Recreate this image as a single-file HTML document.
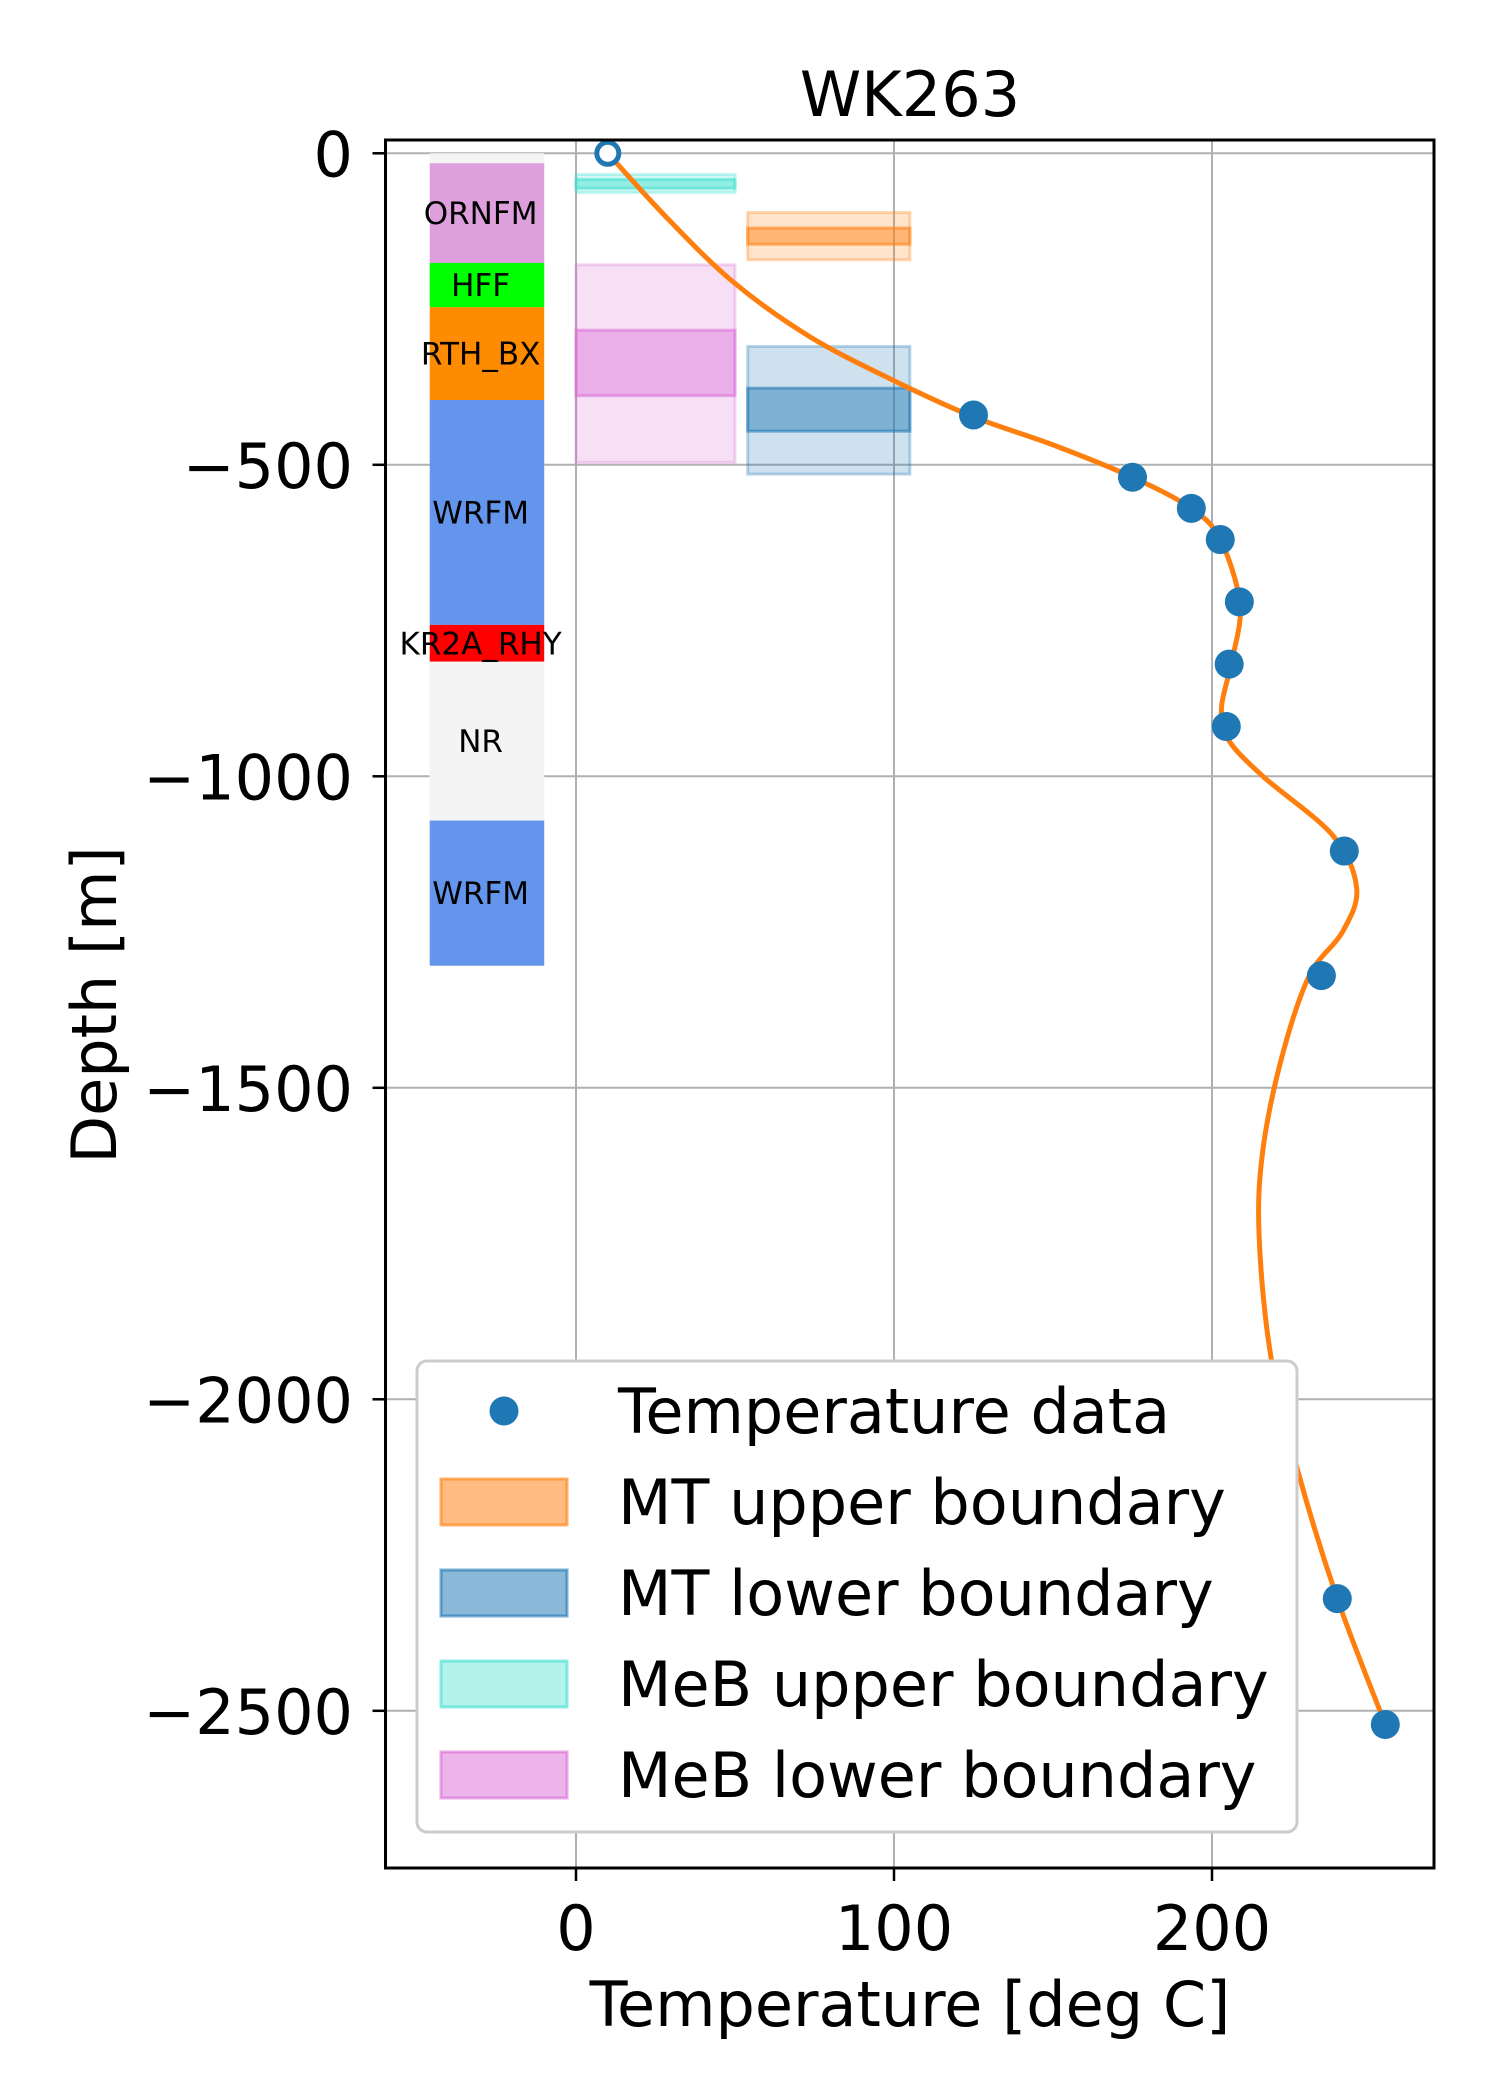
<!DOCTYPE html>
<html><head><meta charset="utf-8">
<style>
html,body{margin:0;padding:0;background:#fff;}
svg{display:block;font-family:"DejaVu Sans","Liberation Sans",sans-serif;}
</style></head>
<body>
<svg id="chart" width="1500" height="2100" viewBox="0 0 1500 2100" xmlns="http://www.w3.org/2000/svg"></svg>
<script>
// ---- data ----
const tempData = [125, 175, 193.5, 202.6, 208.6, 205.4, 204.5, 241.6, 234.4, 239.4, 254.5];
const depthData = [-420, -520, -570, -620, -720, -820, -920, -1120, -1320, -2320, -2522];
const surfaceTemp = [10];
const surfaceDepth = [0];
const curveTemp = [10, 28.3, 49.3, 73.4, 99.6, 125, 150, 175, 193.5, 202.6, 208.8, 206.5, 203, 205, 216, 238, 245.5, 241, 230.6, 222, 216, 214.8, 218.5, 227, 239.4, 254.5];
const curveDepth = [0, -102, -206, -294, -364, -423, -468, -520, -570, -620, -723, -810, -889, -940, -1000, -1095, -1180, -1250, -1320, -1450, -1600, -1736, -1931, -2115, -2320, -2522];
const formNames = ["ORNFM", "HFF", "RTH_BX", "WRFM", "KR2A_RHY", "NR", "WRFM"];
const formTop = [-16, -176, -247, -396, -757, -816, -1071];
const formBottom = [-176, -247, -396, -757, -816, -1071, -1304];
const formColors = ["#dda0dd", "#00ff00", "#ff8c00", "#6495ed", "#ff0000", "#f4f4f4", "#6495ed"];
const boxNames = ["meb-upper", "mt-upper", "meb-lower", "mt-lower"];
const boxTmin = [0, 54, 0, 54];
const boxTmax = [50, 105, 50, 105];
const boxOuterTop = [-34, -95, -179, -310];
const boxOuterBot = [-63, -171, -496, -515];
const boxInnerTop = [-42, -120, -284, -377];
const boxInnerBot = [-56, -146, -389, -446];
const boxFill = ["#40e0d0", "#ff7f0e", "#da70d6", "#1f77b4"];
const xTicks = [0, 100, 200];
const yTicks = [0, -500, -1000, -1500, -2000, -2500];
const legendLabels = ["Temperature data", "MT upper boundary", "MT lower boundary", "MeB upper boundary", "MeB lower boundary"];

// ---- axes ----
const L = 385.5, R = 1434, T = 140, B = 1868;
const X0 = 576, XS = 3.18, Y0 = 153.3, YS = 0.623;
function sx(t){ return X0 + t * XS; }
function sy(d){ return Y0 - d * YS; }
const NS = "http://www.w3.org/2000/svg";
const svg = document.getElementById("chart");
function mk(tag, attrs, parent){
  const e = document.createElementNS(NS, tag);
  for (const k in attrs) e.setAttribute(k, attrs[k]);
  (parent || svg).appendChild(e);
  return e;
}
function fmt(v){ return v < 0 ? "\u2212" + Math.abs(v) : String(v); }

// grid
const grid = mk("g", {});


xTicks.forEach(t => {
  mk("line", {x1: sx(t), x2: sx(t), y1: T, y2: B, stroke: "#b0b0b0", "stroke-width": 2}, grid);
});
yTicks.forEach(d => {
  mk("line", {x1: L, x2: R, y1: sy(d), y2: sy(d), stroke: "#b0b0b0", "stroke-width": 2}, grid);
});

// formation column
const formG = mk("g", {});


const bg = mk("rect", {x: sx(-46), y: sy(0), width: sx(-10) - sx(-46), height: sy(-1304) - sy(0), fill: "#f4f4f4"}, formG);


formNames.forEach((n, i) => {
  const r = mk("rect", {x: sx(-46), y: sy(formTop[i]), width: sx(-10) - sx(-46), height: sy(formBottom[i]) - sy(formTop[i]), fill: formColors[i]}, formG);
  
  
});
formNames.forEach((n, i) => {
  const tx = mk("text", {x: sx(-30), y: (sy(formTop[i]) + sy(formBottom[i])) / 2 + 11, "text-anchor": "middle", "font-size": 31, fill: "#000"}, formG);
  tx.textContent = n;
  
  
});

// boundary boxes
boxNames.forEach((n, i) => {
  const g = mk("g", {});
  
  
  mk("rect", {x: sx(boxTmin[i]), y: sy(boxOuterTop[i]), width: sx(boxTmax[i]) - sx(boxTmin[i]), height: sy(boxOuterBot[i]) - sy(boxOuterTop[i]), fill: boxFill[i], "fill-opacity": 0.22, stroke: boxFill[i], "stroke-opacity": 0.3, "stroke-width": 3}, g);
  mk("rect", {x: sx(boxTmin[i]), y: sy(boxInnerTop[i]), width: sx(boxTmax[i]) - sx(boxTmin[i]), height: sy(boxInnerBot[i]) - sy(boxInnerTop[i]), fill: boxFill[i], "fill-opacity": 0.45, stroke: boxFill[i], "stroke-opacity": 0.55, "stroke-width": 3}, g);
});

// curve (Catmull-Rom)
let pts = curveTemp.map((t, i) => [sx(t), sy(curveDepth[i])]);
let dstr = "M" + pts[0][0] + "," + pts[0][1];
for (let i = 0; i < pts.length - 1; i++){
  const p0 = pts[Math.max(0, i - 1)], p1 = pts[i], p2 = pts[i + 1], p3 = pts[Math.min(pts.length - 1, i + 2)];
  const c1 = [p1[0] + (p2[0] - p0[0]) / 6, p1[1] + (p2[1] - p0[1]) / 6];
  const c2 = [p2[0] - (p3[0] - p1[0]) / 6, p2[1] - (p3[1] - p1[1]) / 6];
  dstr += " C" + c1.join(",") + " " + c2.join(",") + " " + p2.join(",");
}
const curve = mk("path", {d: dstr, fill: "none", stroke: "#ff7f0e", "stroke-width": 5, "stroke-linejoin": "round"});



// data points
tempData.forEach((t, i) => {
  const c = mk("circle", {cx: sx(t), cy: sy(depthData[i]), r: 14.5, fill: "#1f77b4"});
  
  
});
surfaceTemp.forEach((t, i) => {
  const c = mk("circle", {cx: sx(t), cy: sy(surfaceDepth[i]), r: 11, fill: "#fff", stroke: "#1f77b4", "stroke-width": 5});
  
  
});

// spines & ticks
const frame = mk("rect", {x: L, y: T, width: R - L, height: B - T, fill: "none", stroke: "#000", "stroke-width": 3});


xTicks.forEach(t => {
  mk("line", {x1: sx(t), x2: sx(t), y1: B, y2: B + 13, stroke: "#000", "stroke-width": 2.5});
  const tx = mk("text", {x: sx(t), y: 1950, "text-anchor": "middle", "font-size": 62});
  tx.textContent = fmt(t);
  
  
});
yTicks.forEach(d => {
  mk("line", {x1: L - 13, x2: L, y1: sy(d), y2: sy(d), stroke: "#000", "stroke-width": 2.5});
  const tx = mk("text", {x: 353, y: sy(d) + 23, "text-anchor": "end", "font-size": 62});
  tx.textContent = fmt(d);
  
  
});

// titles
const title = mk("text", {x: 910, y: 116, "text-anchor": "middle", "font-size": 62});
title.textContent = "WK263";


const xl = mk("text", {x: 910, y: 2026, "text-anchor": "middle", "font-size": 62});
xl.textContent = "Temperature [deg C]";


const yl = mk("text", {x: 0, y: 0, "text-anchor": "middle", "font-size": 62, transform: "translate(116,1005) rotate(-90)"});
yl.textContent = "Depth [m]";



// legend
const lg = mk("g", {});


mk("rect", {x: 417, y: 1361, width: 880, height: 471, rx: 10, fill: "#fff", stroke: "#cccccc", "stroke-width": 3}, lg);
const legCy = [1411, 1502, 1593, 1684, 1775];
const legColors = ["#1f77b4", "#ff7f0e", "#1f77b4", "#40e0d0", "#da70d6"];
legendLabels.forEach((lab, i) => {
  const cy = legCy[i];
  if (i === 0) {
    mk("circle", {cx: 504, cy: cy, r: 14.5, fill: "#1f77b4"}, lg);
  } else {
    mk("rect", {x: 441, y: cy - 23, width: 126, height: 46, fill: legColors[i], "fill-opacity": i === 3 ? 0.4 : 0.52, stroke: legColors[i], "stroke-opacity": 0.6, "stroke-width": 3}, lg);
  }
  const tx = mk("text", {x: 618, y: cy + 22, "font-size": 62}, lg);
  tx.textContent = lab;
  
  
});
</script>
</body></html>
